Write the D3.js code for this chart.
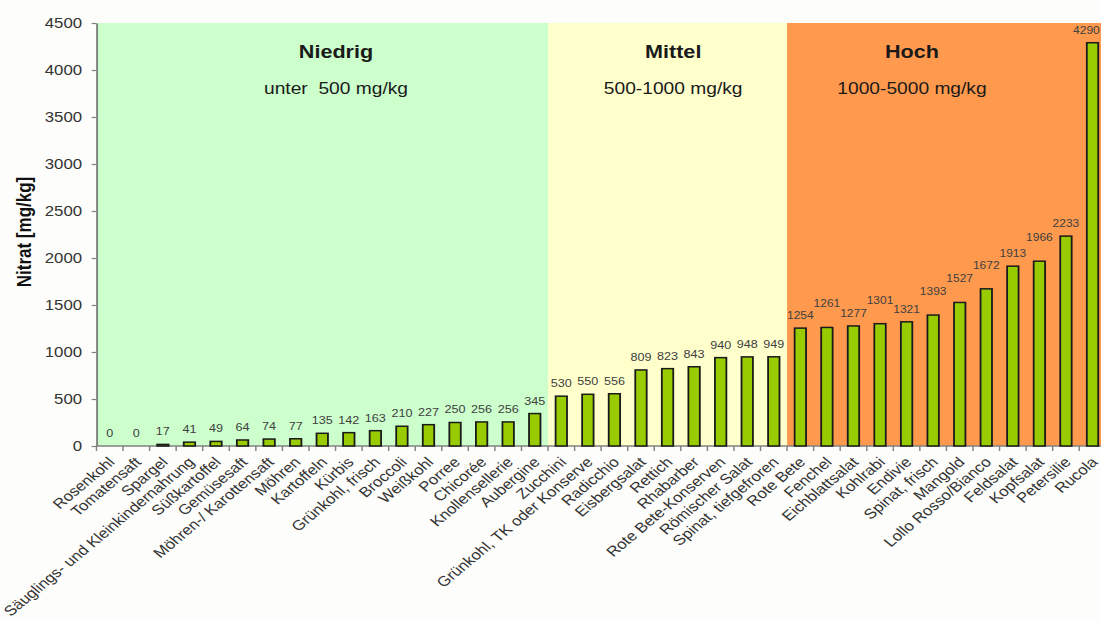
<!DOCTYPE html>
<html><head><meta charset="utf-8">
<script src="https://cdn.jsdelivr.net/npm/d3@7"></script>
<style>
body{margin:0;background:#fdfdfb;}
text{font-family:"Liberation Sans",Arial,sans-serif;}
</style></head>
<body>
<script>
const categories = ["Rosenkohl","Tomatensaft","Spargel","Säuglings- und Kleinkindernahrung","Süßkartoffel","Gemüsesaft","Möhren-/ Karottensaft","Möhren","Kartoffeln","Kürbis","Grünkohl, frisch","Broccoli","Weißkohl","Porree","Chicorée","Knollensellerie","Aubergine","Zucchini","Grünkohl, TK oder Konserve","Radicchio","Eisbergsalat","Rettich","Rhabarber","Rote Bete-Konserven","Römischer Salat","Spinat, tiefgefroren","Rote Bete","Fenchel","Eichblattsalat","Kohlrabi","Endivie","Spinat, frisch","Mangold","Lollo Rosso/Bianco","Feldsalat","Kopfsalat","Petersilie","Rucola"];
const values = [0,0,17,41,49,64,74,77,135,142,163,210,227,250,256,256,345,530,550,556,809,823,843,940,948,949,1254,1261,1277,1301,1321,1393,1527,1672,1913,1966,2233,4290];
const zoneNames = ["Niedrig","Mittel","Hoch"];
const zoneRanges = ["unter  500 mg/kg","500-1000 mg/kg","1000-5000 mg/kg"];
const zoneFirst = ["Rosenkohl","Zucchini","Rote Bete"];
const zoneLast = ["Aubergine","Spinat, tiefgefroren","Rucola"];
const zoneColors = ["#ccffcc","#ffffcc","#ff994d"];
const yTicks = [0,500,1000,1500,2000,2500,3000,3500,4000,4500];
const yLabel = "Nitrat [mg/kg]";

const W = 1101, H = 621, sx = 1.2;
const svg = d3.select("body").append("svg").attr("width", W).attr("height", H);
svg.append("rect").attr("width", W).attr("height", H).attr("fill", "#fdfdfb");
const g = svg.append("g").attr("transform", `scale(${sx},1)`);

const pLeft = 80.4, pRight = 921.5, pTop = 23, pBottom = 446;
const x = d3.scaleBand().domain(categories).range([pLeft, pRight]).paddingInner(0.57).paddingOuter(0.285);
const y = d3.scaleLinear().domain([0, 4500]).range([pBottom, pTop]);
const step = x.step(), bw = x.bandwidth();
const slotStart = c => x(c) - (step - bw) / 2;
const hochStart = categories.indexOf(zoneFirst[2]);

// zones
zoneNames.forEach((n, i) => {
  const x0 = slotStart(zoneFirst[i]);
  const x1 = slotStart(zoneLast[i]) + step;
  g.append("rect").attr("x", x0).attr("y", pTop).attr("width", x1 - x0).attr("height", pBottom - pTop).attr("fill", zoneColors[i]);
});
const titleX = [280, 561, 760];
zoneNames.forEach((n, i) => {
  g.append("text").attr("x", titleX[i]).attr("y", 58).attr("text-anchor", "middle")
    .attr("font-size", 18).attr("font-weight", "bold").attr("fill", "#1a1a1a").text(n);
  g.append("text").attr("x", titleX[i]).attr("y", 94).attr("text-anchor", "middle")
    .attr("font-size", 16).attr("fill", "#1a1a1a").style("white-space", "pre").text(zoneRanges[i]);
});

// y axis
const ya = g.append("g").attr("transform", `translate(${pLeft},0)`)
  .call(d3.axisLeft(y).tickValues(yTicks).tickFormat(d3.format("d")).tickSize(4).tickSizeOuter(0).tickPadding(8));
ya.select(".domain").attr("stroke", "#808080").attr("stroke-width", 1.6);
ya.selectAll(".tick line").attr("stroke", "#808080").attr("stroke-width", 1.2);
ya.selectAll(".tick text").attr("font-size", 14).attr("fill", "#333").style("font-family", '"Liberation Sans",Arial,sans-serif');

// x axis
g.append("line").attr("x1", pLeft).attr("x2", pRight).attr("y1", pBottom).attr("y2", pBottom)
  .attr("stroke", "#808080").attr("stroke-width", 1.5);
g.selectAll(".xt").data(d3.range(categories.length + 1)).join("line")
  .attr("x1", i => pLeft + i * step).attr("x2", i => pLeft + i * step)
  .attr("y1", pBottom).attr("y2", pBottom + 5).attr("stroke", "#808080").attr("stroke-width", 1.2);

// bars
g.selectAll(".bar").data(values).join("rect")
  .attr("x", (d, i) => x(categories[i])).attr("width", bw)
  .attr("y", d => y(d)).attr("height", d => pBottom - y(d))
  .attr("fill", "#99cc00").attr("stroke", "#1a1a1a").attr("stroke-width", 1.5);

// value labels: placed just above the bar, lifted when they would overlap the previous label
const limitX = W / sx - 1;
let prev = null;
g.selectAll(".vl").data(values).join("text")
  .attr("x", (d, i) => x(categories[i]) + bw / 2)
  .attr("text-anchor", "middle").attr("font-size", (d, i) => i >= hochStart ? 10 : 10.5)
  .attr("fill", "#404040").text(d => d)
  .each(function (d, i) {
    const len = this.getComputedTextLength();
    let cx = +this.getAttribute("x");
    if (cx + len / 2 > limitX) { cx = limitX - len / 2; this.setAttribute("x", cx); }
    let by = y(d) - 9;
    if (prev && Math.abs(cx - prev.cx) < (len + prev.len) / 2 + 1 && Math.abs(by - prev.by) < 9) by = y(d) - 20;
    this.setAttribute("y", by);
    prev = { cx, len, by };
  });

// category labels
g.selectAll(".cl").data(categories).join("text")
  .attr("transform", c => `translate(${x(c) + bw / 2 + 5},${pBottom + 17}) rotate(-45)`)
  .attr("text-anchor", "end").attr("font-size", 14).attr("fill", "#333").text(c => c);

// y label
g.append("text").attr("transform", `translate(${26},${232}) rotate(-90)`)
  .attr("text-anchor", "middle").attr("font-size", 17).attr("font-weight", "bold").attr("fill", "#111").text(yLabel);
</script>
</body></html>
